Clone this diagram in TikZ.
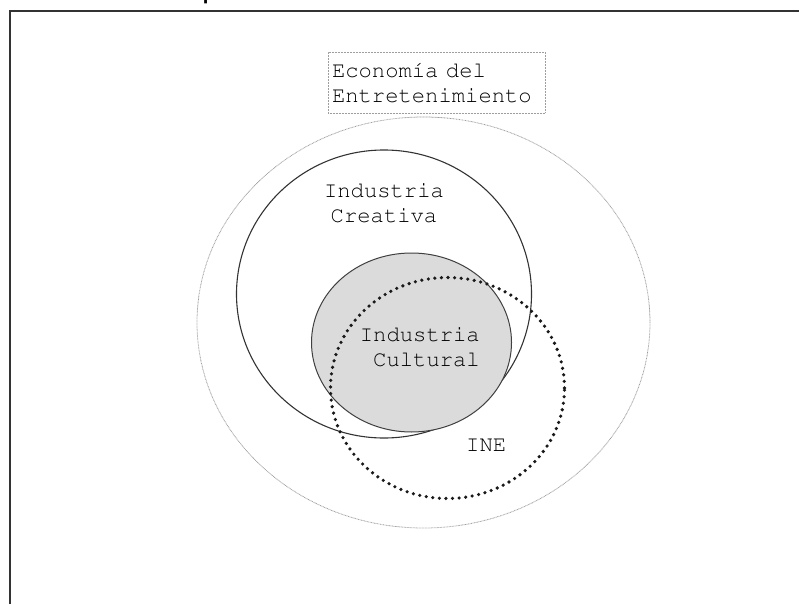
\documentclass[tikz,border=0pt]{standalone}
\usepackage[T1]{fontenc}
\usetikzlibrary{shapes.geometric}
\begin{document}
\begin{tikzpicture}[x=1pt,y=-1pt,
  lbl/.style={font=\fontfamily{pcr}\mdseries\fontsize{22.2}{25}\selectfont, text=black, inner sep=0pt},
  faintdot/.style={draw=black!38, line width=0.8pt, dash pattern=on 0.8pt off 0.7pt},
  outerell/.style={ellipse, faintdot, inner sep=0pt},
  creaell/.style={ellipse, draw=black!80, line width=1.1pt, inner sep=0pt},
  cultell/.style={ellipse, draw=black!75, line width=1pt, fill=black!14, inner sep=0pt},
  ineell/.style={ellipse, draw=black!90, line width=3.6pt, dash pattern=on 0pt off 6.6pt, line cap=round, inner sep=0pt},
  framestyle/.style={draw=black!80, line width=2pt}
]
\useasboundingbox (0,0) rectangle (799,604);
\fill[white] (0,0) rectangle (799,604);
% frame
\coordinate (fbl) at (10,604);
\coordinate (ftl) at (10,11);
\coordinate (ftr) at (799,11);
\draw[framestyle] (fbl) -- (ftl) -- (ftr);
% cut-off title glyph
\begin{scope}
\clip (0,0) rectangle (799,604);
\node[anchor=base west, inner sep=0pt, font=\fontfamily{phv}\bfseries\fontsize{20}{20}\selectfont] (ptitle) at (203,0) {p};
\end{scope}
% ellipses
\node[outerell, minimum width=453pt, minimum height=411pt] (eco) at (423.5,322.5) {};
\node[creaell, minimum width=295pt, minimum height=288pt] (crea) at (384,294) {};
\node[cultell, minimum width=200pt, minimum height=179pt] (cult) at (411.5,342.5) {};
\node[ineell, minimum width=234pt, minimum height=221pt] (ine) at (447.5,388) {};
% box label
\node[lbl, faintdot, align=left, text width=209pt, inner xsep=4pt, inner ysep=0pt, minimum height=61pt] (ecolbl) at (436.5,82.5) {Econom\'ia del\\Entretenimiento};
% labels
\node[lbl, align=center] (crealbl) at (384,203) {Industria\\Creativa};
\node[lbl, align=right, anchor=east] (cultlbl) at (480,347.5) {Industria\\Cultural};
\node[lbl, anchor=base west] (inelbl) at (466,451) {INE};
\end{tikzpicture}
\end{document}
